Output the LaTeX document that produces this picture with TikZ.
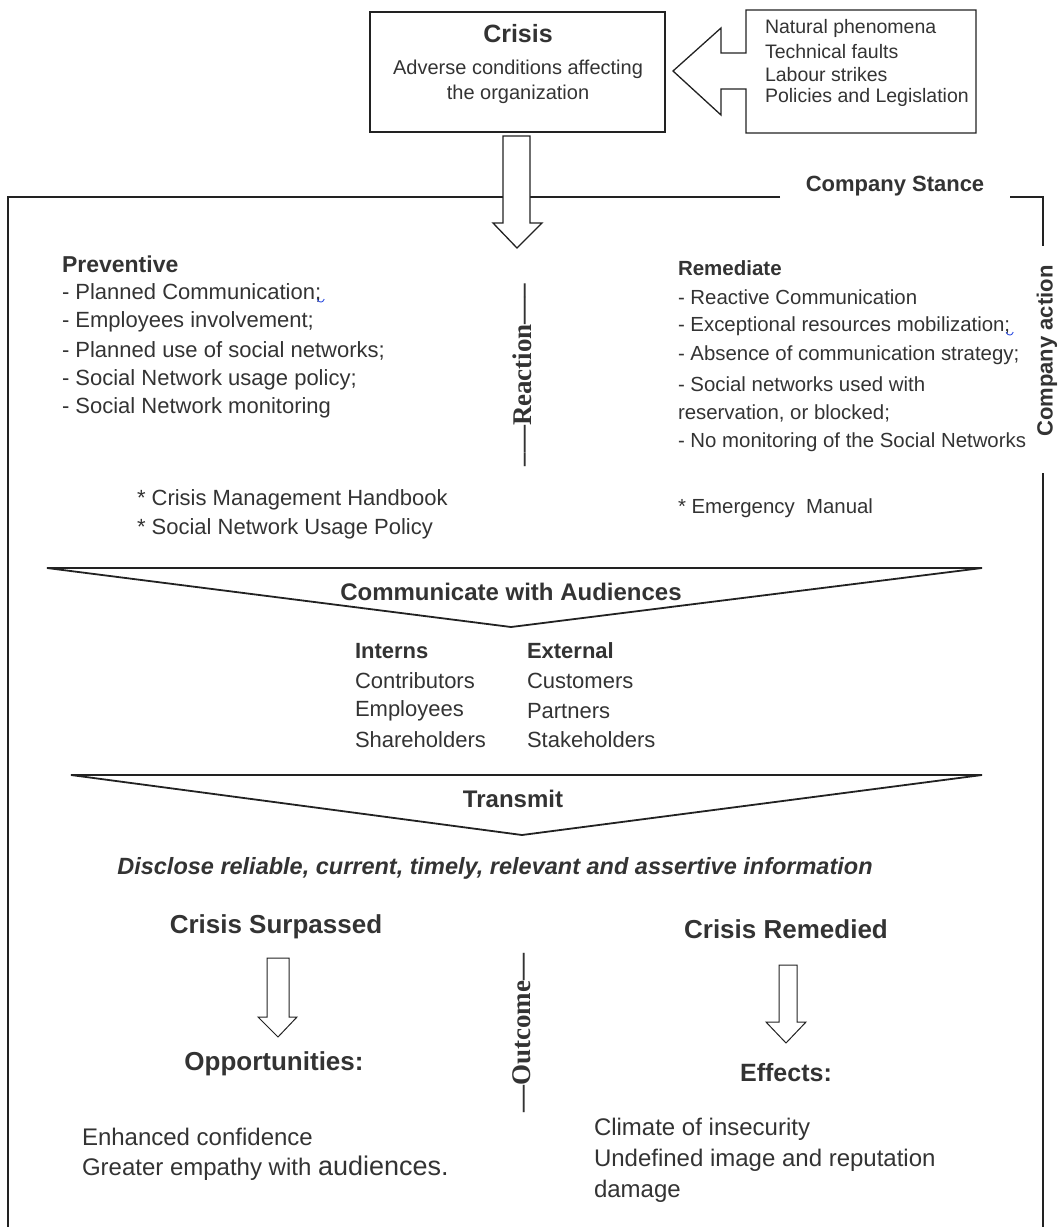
\documentclass[tikz,border=0pt]{standalone}
\usepackage{fontspec}
\setmainfont{Liberation Sans}
\newfontfamily\serifbold{Liberation Serif}
\definecolor{txt}{HTML}{333333}
\definecolor{ln}{HTML}{222222}
\definecolor{spell}{HTML}{2B4BE0}
\begin{document}
\begin{tikzpicture}[x=1pt,y=-1pt,
  every node/.style={inner sep=0pt,outer sep=0pt,text=txt},
  body/.style={anchor=west,font=\fontsize{22}{25}\selectfont},
  rbody/.style={anchor=west,font=\fontsize{20.4}{25}\selectfont},
  lbody/.style={anchor=west,font=\fontsize{24}{27}\selectfont},
  small/.style={anchor=west,font=\fontsize{19.5}{22}\selectfont},
  big/.style={font=\fontsize{26}{30}\selectfont\bfseries},
  cond/.style={font=\fontsize{24}{28}\selectfont\bfseries},
  vert/.style={rotate=90,font=\fontsize{27}{30}\selectfont\serifbold\bfseries},
  outl/.style={draw=ln,line width=1.3pt,line join=miter},
  frame/.style={draw=ln,line width=1.5pt},
  squig/.style={draw=spell,line width=0.9pt}]
\useasboundingbox (0,0) rectangle (1063,1227);

% Crisis box
\draw[frame] (370,12) rectangle (665,132);
\node[font=\fontsize{25}{30}\selectfont\bfseries] (crisis) at (518,34) {Crisis};
\node[font=\fontsize{20}{24}\selectfont] (adverse) at (518,69) {Adverse conditions affecting};
\node[font=\fontsize{20}{24}\selectfont] (adverse2) at (518,94) {the organization};

% left-pointing arrow box
\draw[outl] (673,71) -- (721,28) -- (721,53) -- (746,53) -- (746,10) -- (976,10) -- (976,133) -- (746,133) -- (746,89) -- (721,89) -- (721,115) -- cycle;
\node[small] (c1) at (765,28) {Natural phenomena};
\node[small] (c2) at (765,52) {Technical faults};
\node[small] (c3) at (765,75) {Labour strikes};
\node[small] (c4) at (765,97) {Policies and Legislation};

% Company frame
\draw[frame] (780,197) -- (8,197) -- (8,1230);
\draw[frame] (1010,197) -- (1043,197) -- (1043,246);
\draw[frame] (1043,473) -- (1043,1230);
% down arrow from crisis
\draw[outl,fill=white] (503,136) -- (530,136) -- (530,223) -- (542,223) -- (517,248) -- (493,223) -- (503,223) -- cycle;
\node[font=\fontsize{22}{26}\selectfont\bfseries] (stance) at (895,186) {Company Stance};
\node[rotate=90,font=\fontsize{22}{26}\selectfont\bfseries] (action) at (1047,351) {Company action};

% Preventive
\node[anchor=west,font=\fontsize{23}{27}\selectfont\bfseries] (prev) at (62,264) {Preventive};
\node[body] (p1) at (62,293) {- Planned Communication;};
\node[body] (p2) at (62,322) {- Employees involvement;};
\node[body] (p3) at (62,351) {- Planned use of social networks;};
\node[body] (p4) at (62,380) {- Social Network usage policy;};
\node[body] (p5) at (62,408) {- Social Network monitoring};
\node[body] (p6) at (137,500) {* Crisis Management Handbook};
\node[body] (p7) at (137,529) {* Social Network Usage Policy};
\draw[squig] (p1.east) ++(-4,6) .. controls +(1.5,3) and +(-1.5,0) .. ++(4,3) .. controls +(1.5,0) and +(-1,2) .. ++(3,-3);

\node[vert] (reaction) at (522,375) {–—Reaction—–};

% Remediate
\node[anchor=west,font=\fontsize{20.5}{24}\selectfont\bfseries] (rem) at (678,268) {Remediate};
\node[rbody] (r1) at (678,297) {- Reactive Communication};
\node[rbody] (r2) at (678,326) {- Exceptional resources mobilization;};
\node[rbody] (r3) at (678,355) {- Absence of communication strategy;};
\node[rbody] (r4) at (678,384) {- Social networks used with};
\node[rbody] (r5) at (678,413) {reservation, or blocked;};
\node[rbody] (r6) at (678,442) {- No monitoring of the Social Networks};
\node[rbody] (r7) at (678,508) {* Emergency\ \ Manual};
\draw[squig] (r2.east) ++(-4,6) .. controls +(1.5,3) and +(-1.5,0) .. ++(4,3) .. controls +(1.5,0) and +(-1,2) .. ++(3,-3);

% Communicate triangle
\draw[outl,line width=1.8pt] (47,568) -- (982,568) -- (511,627) -- cycle;
\node[cond] (comm) at (511,592) {Communicate with Audiences};

\node[anchor=west,font=\fontsize{22}{26}\selectfont\bfseries] (interns) at (355,651) {Interns};
\node[anchor=west,font=\fontsize{22}{26}\selectfont\bfseries] (external) at (527,651) {External};
\node[body] (i1) at (355,681) {Contributors};
\node[body] (i2) at (355,711) {Employees};
\node[body] (i3) at (355,740) {Shareholders};
\node[body] (e1) at (527,681) {Customers};
\node[body] (e2) at (527,711) {Partners};
\node[body] (e3) at (527,740) {Stakeholders};

% Transmit triangle
\draw[outl,line width=1.8pt] (71,775) -- (982,775) -- (522,835) -- cycle;
\node[cond] (transmit) at (513,799) {Transmit};

\node[font=\fontsize{23.5}{28}\selectfont\bfseries\itshape] (disclose) at (495,868) {Disclose reliable, current, timely, relevant and assertive information};

% Outcomes
\node[big] (surp) at (276,927) {Crisis Surpassed};
\node[big] (remd) at (786,929) {Crisis Remedied};
\draw[outl,line width=1pt,fill=white] (267,958) -- (289,958) -- (289,1017) -- (297,1017) -- (278,1037) -- (258,1017) -- (267,1017) -- cycle;
\draw[outl,line width=1pt,fill=white] (779,965) -- (797,965) -- (797,1022) -- (806,1022) -- (786,1043) -- (766,1022) -- (779,1022) -- cycle;
\node[big] (opp) at (274,1064) {Opportunities:};
\node[font=\fontsize{25}{30}\selectfont\bfseries] (eff) at (786,1073) {Effects:};

\node[vert] (outcome) at (522,1033) {—Outcome—};

\node[lbody] (o1) at (82,1137) {Enhanced confidence};
\node[lbody] (o2) at (82,1168) {Greater empathy with \fontsize{27}{30}\selectfont audiences.};
\node[lbody] (f1) at (594,1129) {Climate of insecurity};
\node[lbody] (f2) at (594,1160) {Undefined image and reputation};
\node[lbody] (f3) at (594,1191) {damage};
\end{tikzpicture}
\end{document}
